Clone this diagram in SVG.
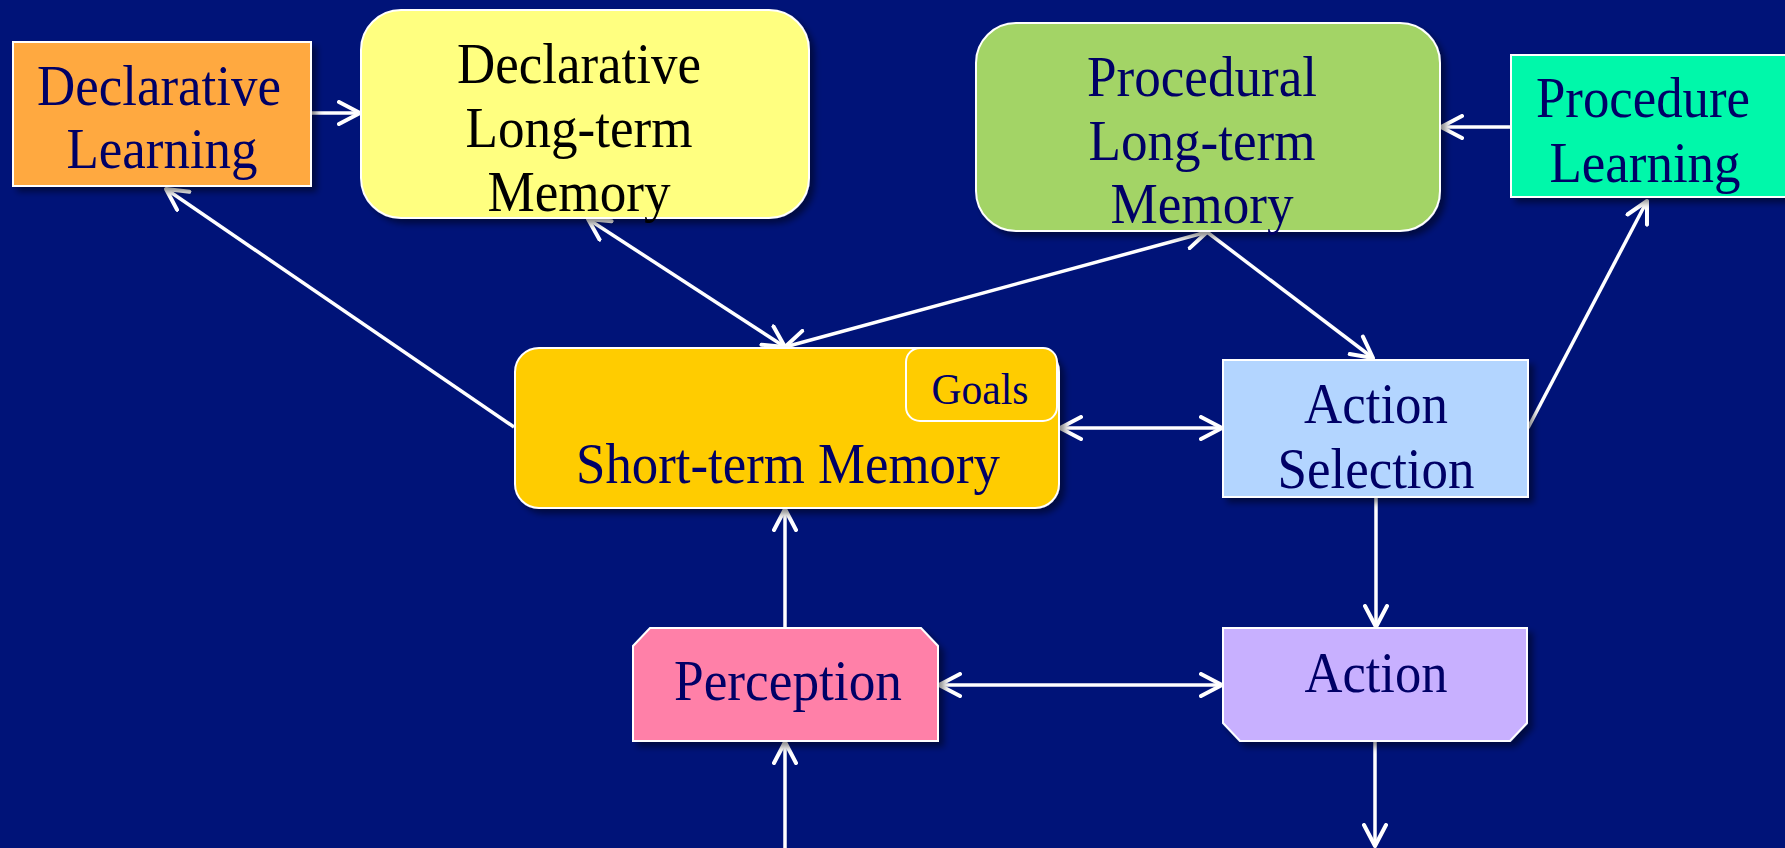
<svg xmlns="http://www.w3.org/2000/svg" width="1785" height="848" viewBox="0 0 1785 848">
  <style>
    .box { stroke: #ffffff; stroke-width: 2; filter: url(#shadow); }
    .lbl { font-family: "Liberation Serif", "Times New Roman", serif; font-size: 56px; fill: #000066; text-anchor: middle; }
    .dark { fill: #000000; }
    .small { font-size: 44px; }
    .wire { stroke: #ffffff; stroke-width: 3.5; fill: none; }
    .one { marker-end: url(#head); }
    .both { marker-start: url(#head); marker-end: url(#head); }
  </style>
  <defs>
    <filter id="shadow" x="-10%" y="-10%" width="130%" height="130%">
      <feDropShadow dx="5" dy="5" stdDeviation="3" flood-color="#000000" flood-opacity="0.45"/>
    </filter>
    <marker id="head" viewBox="0 0 26 26" markerWidth="26" markerHeight="26" refX="23" refY="13" orient="auto-start-reverse" markerUnits="userSpaceOnUse">
      <path d="M2,2 L23,13 L2,24" fill="none" stroke="#ffffff" stroke-width="4" stroke-linecap="round" stroke-linejoin="round"/>
    </marker>
  </defs>

  <rect width="1785" height="848" fill="#001378"/>

  <g id="connectors">
    <line class="wire one" x1="311" y1="113" x2="360" y2="113"/>
    <line class="wire one" x1="514" y1="427" x2="166" y2="189"/>
    <line class="wire both" x1="588" y1="219" x2="785" y2="347"/>
    <line class="wire both" x1="785" y1="347" x2="1207" y2="232"/>
    <line class="wire one" x1="1207" y1="232" x2="1373" y2="358"/>
    <line class="wire one" x1="1511" y1="127" x2="1441" y2="127"/>
    <line class="wire one" x1="1528" y1="428" x2="1647" y2="201"/>
    <line class="wire both" x1="1060" y1="428" x2="1222" y2="428"/>
    <line class="wire one" x1="1376" y1="497" x2="1376" y2="627"/>
    <line class="wire one" x1="785" y1="628" x2="785" y2="509"/>
    <line class="wire both" x1="939" y1="685" x2="1222" y2="685"/>
    <line class="wire one" x1="785" y1="848" x2="785" y2="742"/>
    <line class="wire one" x1="1375" y1="741" x2="1375" y2="846"/>
  </g>

  <g id="declarative-learning">
    <rect class="box" x="13" y="42" width="298" height="144" fill="#ffa940"/>
    <text class="lbl" x="159" y="105" textLength="244" lengthAdjust="spacingAndGlyphs">Declarative</text>
    <text class="lbl" x="162" y="168" textLength="191" lengthAdjust="spacingAndGlyphs">Learning</text>
  </g>

  <g id="declarative-ltm">
    <rect class="box" x="361" y="10" width="448" height="208" rx="40" fill="#ffff80"/>
    <text class="lbl dark" x="579" y="83" textLength="244" lengthAdjust="spacingAndGlyphs">Declarative</text>
    <text class="lbl dark" x="579" y="147" textLength="227" lengthAdjust="spacingAndGlyphs">Long-term</text>
    <text class="lbl dark" x="579" y="211" textLength="183" lengthAdjust="spacingAndGlyphs">Memory</text>
  </g>

  <g id="procedural-ltm">
    <rect class="box" x="976" y="23" width="464" height="208" rx="40" fill="#a3d466"/>
    <text class="lbl" x="1202" y="96" textLength="230" lengthAdjust="spacingAndGlyphs">Procedural</text>
    <text class="lbl" x="1202" y="160" textLength="227" lengthAdjust="spacingAndGlyphs">Long-term</text>
    <text class="lbl" x="1202" y="223" textLength="183" lengthAdjust="spacingAndGlyphs">Memory</text>
  </g>

  <g id="procedure-learning">
    <rect class="box" x="1511" y="55" width="290" height="142" fill="#00f8aa"/>
    <text class="lbl" x="1643" y="117" textLength="214" lengthAdjust="spacingAndGlyphs">Procedure</text>
    <text class="lbl" x="1645" y="182" textLength="191" lengthAdjust="spacingAndGlyphs">Learning</text>
  </g>

  <g id="short-term-memory">
    <rect class="box" x="515" y="348" width="544" height="160" rx="24" fill="#ffcc00"/>
    <text class="lbl" x="788" y="483" textLength="424" lengthAdjust="spacingAndGlyphs">Short-term Memory</text>
  </g>

  <g id="goals">
    <rect x="906" y="348" width="151" height="73" rx="14" fill="#ffcc00" stroke="#ffffff" stroke-width="2"/>
    <text class="lbl small" x="980" y="404" textLength="97" lengthAdjust="spacingAndGlyphs">Goals</text>
  </g>

  <g id="action-selection">
    <rect class="box" x="1223" y="360" width="305" height="137" fill="#b3d5ff"/>
    <text class="lbl" x="1376" y="423" textLength="144" lengthAdjust="spacingAndGlyphs">Action</text>
    <text class="lbl" x="1376" y="488" textLength="197" lengthAdjust="spacingAndGlyphs">Selection</text>
  </g>

  <g id="perception">
    <path class="box" d="M650,628 L921,628 L938,646 L938,741 L633,741 L633,646 Z" fill="#ff80a8"/>
    <text class="lbl" x="788" y="700" textLength="228" lengthAdjust="spacingAndGlyphs">Perception</text>
  </g>

  <g id="action">
    <path class="box" d="M1223,628 L1527,628 L1527,723 L1510,741 L1240,741 L1223,723 Z" fill="#c8b0ff"/>
    <text class="lbl" x="1376" y="692" textLength="143" lengthAdjust="spacingAndGlyphs">Action</text>
  </g>
</svg>
